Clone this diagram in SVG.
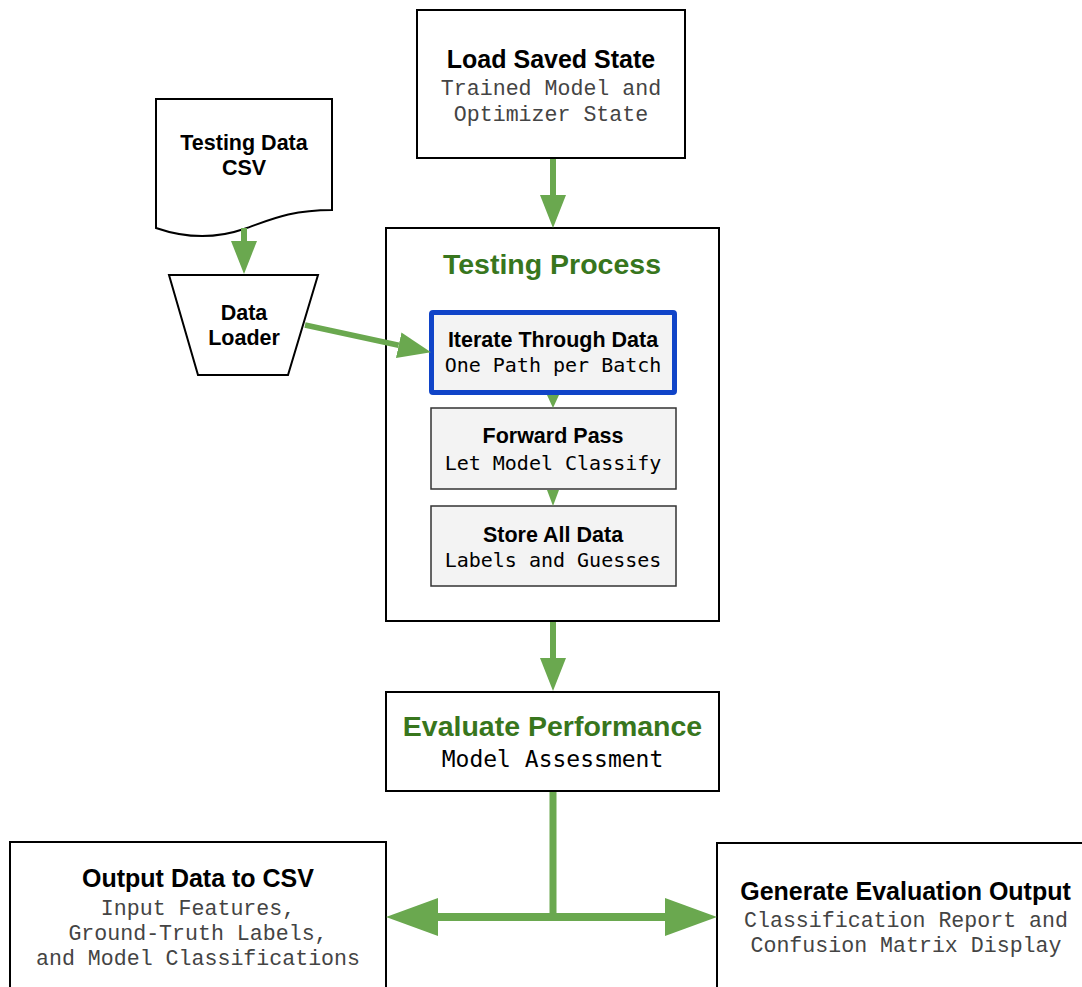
<svg xmlns="http://www.w3.org/2000/svg" width="1082" height="987" viewBox="0 0 1082 987">
  <style>
    .box { fill: #ffffff; stroke: #000000; stroke-width: 2; }
    .step { fill: #f3f3f3; stroke: #333333; stroke-width: 1.5; }
    .active { fill: #f3f3f3; stroke: #1044c8; stroke-width: 5; }
    .title { font-family: "Liberation Sans", Arial, sans-serif; font-weight: bold; fill: #000000; text-anchor: middle; }
    .green { fill: #38761d; }
    .courier { font-family: "Liberation Mono", "Courier New", monospace; fill: #444444; text-anchor: middle; font-size: 21.6px; }
    .mono { font-family: "DejaVu Sans Mono", monospace; fill: #000000; text-anchor: middle; }
    .flow { stroke: #6aa84f; fill: none; stroke-linecap: butt; }
    .tip { fill: #6aa84f; }
  </style>
  <defs>
    <marker id="head" markerUnits="userSpaceOnUse" viewBox="0 0 33 26" markerWidth="33" markerHeight="26" refX="0" refY="13" orient="auto">
      <path d="M0,0 L33,13 L0,26 Z" fill="#6aa84f"/>
    </marker>
    <marker id="bighead" markerUnits="userSpaceOnUse" viewBox="0 0 52 38" markerWidth="52" markerHeight="38" refX="0" refY="19" orient="auto">
      <path d="M0,0 L52,19 L0,38 Z" fill="#6aa84f"/>
    </marker>
  </defs>

  <!-- source document -->
  <g id="testing-data-csv">
    <path class="box" d="M156,99 H332 V210 C290,210 270,220 244,229 C215,239 185,238 156,228 Z"/>
    <text class="title" x="244" y="150" font-size="21.5">Testing Data</text>
    <text class="title" x="244" y="175" font-size="21.5">CSV</text>
  </g>

  <g id="data-loader">
    <polygon class="box" points="169,275 318,275 288,375 198,375"/>
    <text class="title" x="244" y="320" font-size="21.5">Data</text>
    <text class="title" x="244" y="345" font-size="21.5">Loader</text>
  </g>

  <g id="load-saved-state">
    <rect class="box" x="417" y="10" width="268" height="148"/>
    <text class="title" x="551" y="68" font-size="25">Load Saved State</text>
    <text class="courier" x="551" y="95">Trained Model and</text>
    <text class="courier" x="551" y="121">Optimizer State</text>
  </g>

  <g id="testing-process">
    <rect class="box" x="386" y="228" width="333" height="393"/>
    <text class="title green" x="552" y="274" font-size="28.5">Testing Process</text>
  </g>

  <g id="iterate">
    <rect class="active" x="431.5" y="312.5" width="243" height="80" rx="1.5"/>
    <text class="title" x="553" y="347" font-size="21.5">Iterate Through Data</text>
    <text class="mono" x="553" y="372" font-size="20">One Path per Batch</text>
  </g>

  <g id="forward-pass">
    <rect class="step" x="431" y="408" width="245" height="81"/>
    <text class="title" x="553" y="443" font-size="21.5">Forward Pass</text>
    <text class="mono" x="553" y="470" font-size="20">Let Model Classify</text>
  </g>

  <g id="store-all-data">
    <rect class="step" x="431" y="506" width="245" height="80"/>
    <text class="title" x="553" y="541.5" font-size="21.5">Store All Data</text>
    <text class="mono" x="553" y="567" font-size="20">Labels and Guesses</text>
  </g>

  <g id="evaluate-performance">
    <rect class="box" x="386" y="692" width="333" height="99"/>
    <text class="title green" x="552.5" y="736" font-size="28.5">Evaluate Performance</text>
    <text class="mono" x="552.5" y="767" font-size="23">Model Assessment</text>
  </g>

  <g id="output-csv">
    <rect class="box" x="10" y="842" width="376" height="170"/>
    <text class="title" x="198" y="887" font-size="25">Output Data to CSV</text>
    <text class="courier" x="198" y="915">Input Features,</text>
    <text class="courier" x="198" y="940">Ground-Truth Labels,</text>
    <text class="courier" x="198" y="965">and Model Classifications</text>
  </g>

  <g id="evaluation-output">
    <rect class="box" x="717" y="843" width="380" height="170"/>
    <text class="title" x="905.5" y="900" font-size="25">Generate Evaluation Output</text>
    <text class="courier" x="906" y="927">Classification Report and</text>
    <text class="courier" x="906" y="952">Confusion Matrix Display</text>
  </g>

  <!-- connectors, drawn over the boxes they cross -->
  <g id="connectors">
    <line class="flow" x1="553" y1="159" x2="553" y2="195" stroke-width="6" marker-end="url(#head)"/>
    <line class="flow" x1="244" y1="228" x2="244" y2="241" stroke-width="6" marker-end="url(#head)"/>
    <line class="flow" x1="305" y1="325" x2="398.7" y2="345.2" stroke-width="5.5" marker-end="url(#head)"/>
    <line class="flow" x1="553" y1="622" x2="553" y2="658" stroke-width="6" marker-end="url(#head)"/>
    <line class="flow" x1="553" y1="792" x2="553" y2="921" stroke-width="7"/>
    <line class="flow" x1="520" y1="917" x2="438" y2="917" stroke-width="8" marker-end="url(#bighead)"/>
    <line class="flow" x1="520" y1="917" x2="665" y2="917" stroke-width="8" marker-end="url(#bighead)"/>
    <polygon class="tip" points="547,395 559,395 553,408"/>
    <polygon class="tip" points="547,490 559,490 553,506"/>
  </g>
</svg>
